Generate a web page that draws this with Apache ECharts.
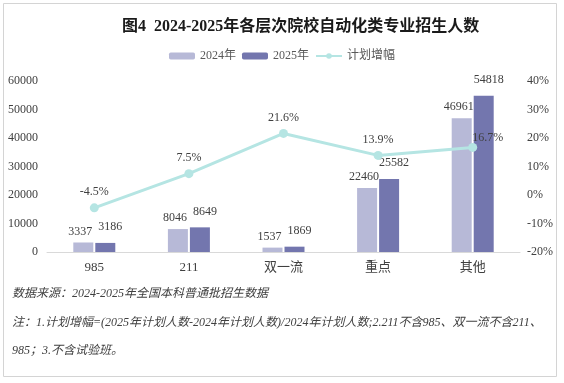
<!DOCTYPE html>
<html><head><meta charset="utf-8">
<script src="https://cdn.jsdelivr.net/npm/echarts@6/dist/echarts.min.js"></script>
<style>html,body{margin:0;padding:0;background:#fff}#c{width:564px;height:383px}</style>
</head><body><div id="c"></div>
<script>
const categories = ['985', '211', '双一流', '重点', '其他'];
const plan2024 = [3337, 8046, 1537, 22460, 46961];
const plan2025 = [3186, 8649, 1869, 25582, 54818];
const growth = [-4.5, 7.5, 21.6, 13.9, 16.7];
const seriesNames = ['2024年', '2025年', '计划增幅'];
const titleText = '图4  2024-2025年各层次院校自动化类专业招生人数';
const noteLines = [
  '数据来源：2024-2025年全国本科普通批招生数据',
  '注：1.计划增幅=(2025年计划人数-2024年计划人数)/2024年计划人数;2.211不含985、双一流不含211、',
  '985；3.不含试验班。'
];

const FF = "'Liberation Serif','Noto Sans CJK SC',serif";
const chart = echarts.init(document.getElementById('c'), null, {renderer: 'canvas'});
const labelStyle = {fontFamily: FF, fontSize: 12, color: '#404040'};

chart.setOption({
  backgroundColor: '#fff',
  animation: false,
  title: {
    text: titleText, left: 117, top: 14,
    textStyle: {fontFamily: FF, fontSize: 16, fontWeight: 'bold', color: '#1a1a1a'}
  },
  legend: {
    data: seriesNames, top: 45, left: 'center', itemWidth: 26, itemHeight: 7, itemGap: 6,
    textStyle: {fontFamily: FF, fontSize: 12, color: '#595959'}
  },
  grid: {left: 47, right: 44, top: 81, bottom: 131},
  xAxis: {
    type: 'category', data: categories,
    axisLine: {lineStyle: {color: '#d9d9d9', width: 1}},
    axisTick: {show: false},
    axisLabel: {fontFamily: FF, fontSize: 13, color: '#404040', margin: 9}
  },
  yAxis: [
    {type: 'value', min: 0, max: 60000, interval: 10000, splitLine: {show: false},
     axisLine: {show: false}, axisTick: {show: false},
     axisLabel: {fontFamily: FF, fontSize: 12, color: '#404040', margin: 9, formatter: v => String(v)}},
    {type: 'value', min: -20, max: 40, interval: 10, splitLine: {show: false},
     axisLine: {show: false}, axisTick: {show: false},
     axisLabel: {fontFamily: FF, fontSize: 12, color: '#404040', margin: 7, formatter: v => v + '%'}}
  ],
  series: [
    {name: seriesNames[0], type: 'bar', data: plan2024, barWidth: 20, barGap: '10%',
     itemStyle: {color: '#b7b9d7'},
     label: Object.assign({show: true, position: 'top', distance: 5, offset: [-3, 0]}, labelStyle)},
    {name: seriesNames[1], type: 'bar', data: plan2025, barWidth: 20,
     itemStyle: {color: '#7376ae'},
     label: Object.assign({show: true, position: 'top', distance: 10, offset: [5, 0]}, labelStyle)},
    {name: seriesNames[2], type: 'line', yAxisIndex: 1, z: 5,
     data: growth.map((v, i) => i === growth.length - 1 ? {value: v, label: {offset: [15, 6]}} : v),
     symbol: 'circle', symbolSize: 9,
     lineStyle: {color: '#b5e5e3', width: 3}, itemStyle: {color: '#b5e5e3'},
     label: Object.assign({show: true, position: 'top', distance: 5, formatter: p => p.value.toFixed(1) + '%'}, labelStyle)}
  ],
  graphic: [
    {type: 'rect', shape: {x: 3.5, y: 3.5, width: 553, height: 373}, style: {fill: 'none', stroke: '#d4d4d4', lineWidth: 1}, silent: true, z: -1},
    {type: 'text', left: 12, top: 288, style: {text: noteLines[0], fontFamily: FF, fontSize: 12, fontStyle: 'italic', fill: '#404040'}},
    {type: 'text', left: 12, top: 317, style: {text: noteLines[1], fontFamily: FF, fontSize: 12, fontStyle: 'italic', fill: '#404040'}},
    {type: 'text', left: 12, top: 345, style: {text: noteLines[2], fontFamily: FF, fontSize: 12, fontStyle: 'italic', fill: '#404040'}}
  ]
});
</script></body></html>
